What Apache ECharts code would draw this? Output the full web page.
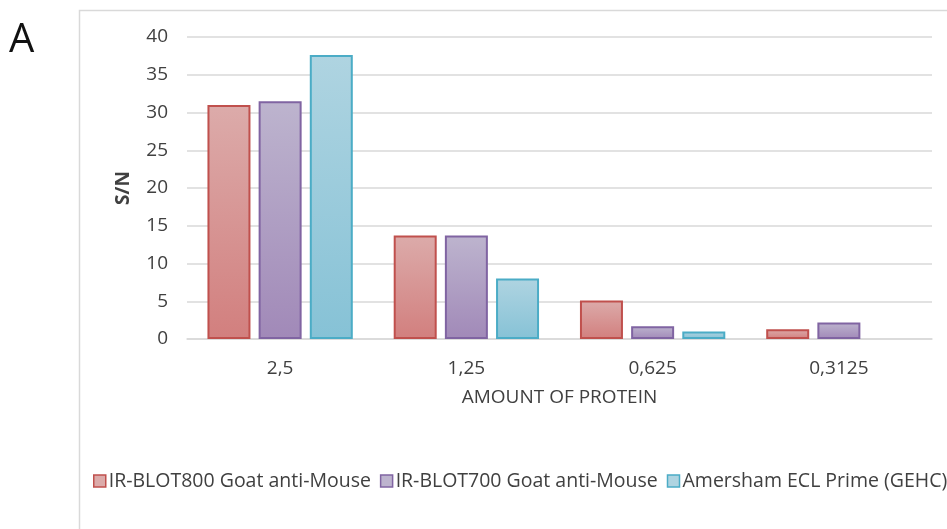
<!DOCTYPE html>
<html><head><meta charset="utf-8">
<script src="https://cdn.jsdelivr.net/npm/echarts@6/dist/echarts.min.js"></script>
<style>html,body{margin:0;padding:0;background:#fff}#c{width:947px;height:529px}</style>
</head><body><div id="c"></div>
<script>
const categories = ['2,5', '1,25', '0,625', '0,3125'];
const seriesNames = ['IR-BLOT800 Goat anti-Mouse', 'IR-BLOT700 Goat anti-Mouse', 'Amersham ECL Prime (GEHC)'];
const ir800 = [31.0, 13.7, 5.1, 1.3];
const ir700 = [31.5, 13.7, 1.7, 2.2];
const ecl = [37.6, 8.0, 1.0, null];
const yTicks = [0, 5, 10, 15, 20, 25, 30, 35, 40];

const FONT = '"Open Sans", sans-serif';
const FS = 19;
const styles = [
  {border: '#c0504d', top: '#dcabaa', bottom: '#d27f7e'},
  {border: '#8064a2', top: '#bdb4ce', bottom: '#a189b8'},
  {border: '#4bacc6', top: '#afd4e1', bottom: '#86c2d6'}
];
const values = [ir800, ir700, ecl];
const chart = echarts.init(document.getElementById('c'), null, {renderer: 'canvas'});
chart.setOption({
  animation: false,
  textStyle: {fontFamily: FONT},
  graphic: [
    {type: 'rect', shape: {x: 79.5, y: 10.5, width: 900, height: 600}, style: {fill: 'none', stroke: '#d9d9d9', lineWidth: 1.5}, z: 0},
    {type: 'text', left: 9, top: 21, style: {text: 'A', font: '40px "Open Sans", sans-serif', fill: '#111'}}
  ],
  grid: {left: 187, right: 15, top: 37, bottom: 190},
  legend: {
    top: 471, left: 93, width: 900, padding: 0, itemWidth: 12, itemHeight: 12, itemGap: 9,
    textStyle: {fontSize: 19.5, color: '#404040', fontFamily: FONT, padding: [0, 0, 0, -2]},
    data: seriesNames.map((n, i) => ({name: n, icon: 'rect', itemStyle: {color: styles[i].top, borderColor: styles[i].border, borderWidth: 1.5}}))
  },
  xAxis: {
    type: 'category', data: categories,
    name: 'AMOUNT OF PROTEIN', nameLocation: 'middle', nameGap: 49,
    nameTextStyle: {fontSize: FS, color: '#404040', fontFamily: FONT},
    axisLine: {lineStyle: {color: '#d9d9d9', width: 1.5}},
    axisTick: {show: false},
    axisLabel: {fontSize: FS, color: '#404040', margin: 20, fontFamily: FONT}
  },
  yAxis: {
    type: 'value', min: yTicks[0], max: yTicks[yTicks.length - 1], interval: 5,
    name: 'S/N', nameLocation: 'middle', nameGap: 54, nameRotate: 90,
    nameTextStyle: {fontSize: FS, fontWeight: 'bold', color: '#404040', fontFamily: FONT},
    axisLine: {show: false}, axisTick: {show: false},
    axisLabel: {fontSize: FS, color: '#404040', margin: 19, fontFamily: FONT},
    splitLine: {lineStyle: {color: '#d9d9d9', width: 1.5}}
  },
  series: values.map((v, i) => ({
    name: seriesNames[i], type: 'bar', data: v,
    barWidth: 43, barGap: '19%',
    itemStyle: {
      borderColor: styles[i].border, borderWidth: 2,
      color: new echarts.graphic.LinearGradient(0, 0, 0, 1, [{offset: 0, color: styles[i].top}, {offset: 1, color: styles[i].bottom}])
    }
  }))
});
</script></body></html>
